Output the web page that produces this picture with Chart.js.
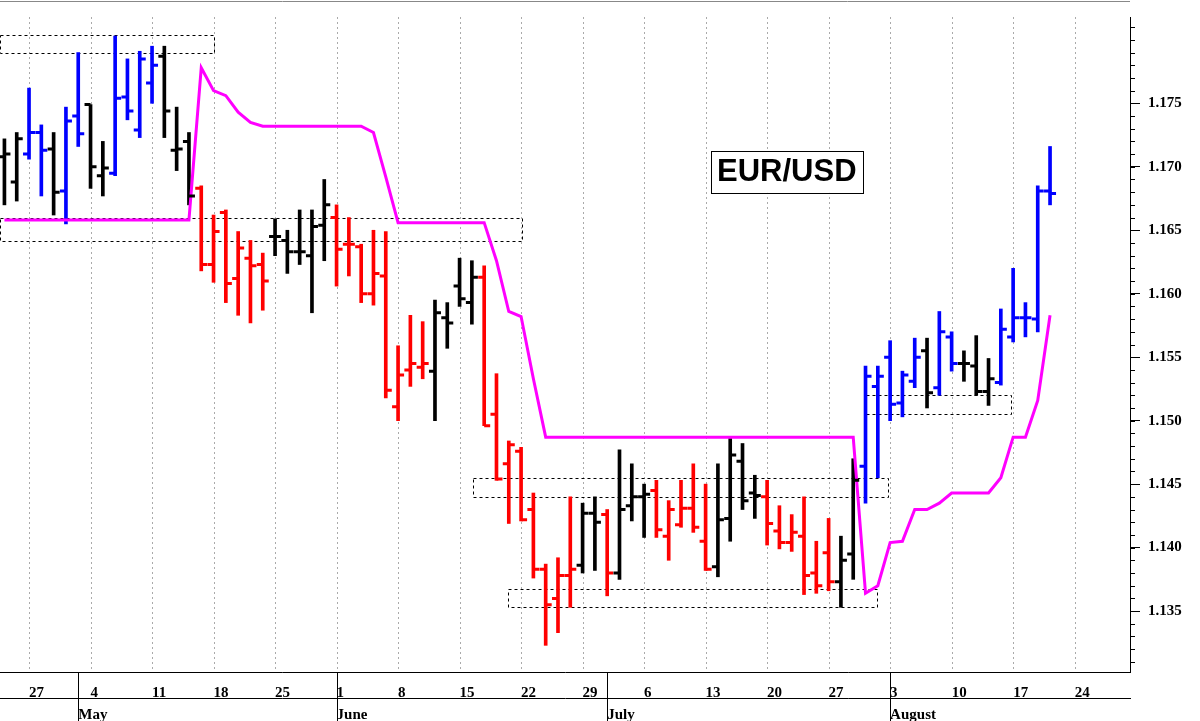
<!DOCTYPE html>
<html><head><meta charset="utf-8">
<script src="https://cdn.jsdelivr.net/npm/chart.js@4/dist/chart.umd.min.js"></script>
<style>html,body{margin:0;padding:0;background:#fff;}canvas{display:block;}</style>
</head><body>
<canvas id="c" width="1200" height="721"></canvas>
<script>
const highs=[1.1722,1.1727,1.1762,1.1733,1.1727,1.1747,1.1790,1.1749,1.1720,1.1803,1.1785,1.1791,1.1795,1.1795,1.1747,1.1727,
1.1685,1.1662,1.1666,1.1649,1.1642,1.1632,1.1659,1.1650,1.1666,1.1666,1.1690,1.1670,1.1660,1.1639,1.1650,1.1649,1.1559,1.1583,1.1578,1.1595,1.1593,1.1628,1.1626,
1.1622,1.1537,1.1484,1.1479,1.1443,1.1387,1.1392,1.1440,1.1435,1.1440,1.1430,1.1477,1.1466,1.1450,1.1453,1.1437,1.1453,1.1466,1.1450,1.1466,1.1486,1.1482,1.1457,
1.1453,1.1433,1.1426,1.1440,1.1405,1.1423,1.1409,1.1470,1.1543,1.1543,1.1563,1.1539,1.1565,1.1565,1.1586,1.1570,1.1555,1.1567,1.1549,1.1588,1.1620,1.1593,1.1685,1.1716];
const lows=[1.1670,1.1673,1.1706,1.1677,1.1662,1.1655,1.1716,1.1683,1.1677,1.1693,1.1737,1.1723,1.1750,1.1723,1.1697,1.1670,
1.1618,1.1609,1.1593,1.1583,1.1577,1.1587,1.1630,1.1616,1.1623,1.1585,1.1626,1.1606,1.1614,1.1593,1.1591,1.1518,1.1500,1.1527,1.1533,1.1500,1.1557,1.1590,1.1576,
1.1496,1.1453,1.1419,1.1421,1.1376,1.1323,1.1333,1.1353,1.1380,1.1382,1.1362,1.1375,1.1421,1.1408,1.1408,1.1390,1.1416,1.1412,1.1382,1.1377,1.1405,1.1430,1.1423,
1.1402,1.1399,1.1397,1.1363,1.1364,1.1366,1.1353,1.1375,1.1435,1.1455,1.1500,1.1503,1.1526,1.1510,1.1520,1.1539,1.1531,1.1520,1.1512,1.1528,1.1562,1.1566,1.1570,1.1670];
const opens=[1.1708,1.1688,1.1710,1.1727,1.1714,1.1681,1.1740,1.1749,1.1693,1.1695,1.1755,1.1729,1.1766,1.1787,1.1713,1.1720,
1.1683,1.1623,1.1664,1.1612,1.1628,1.1623,1.1645,1.1642,1.1633,1.1630,1.1654,1.1660,1.1639,1.1637,1.1600,1.1614,1.1511,1.1540,1.1542,1.1539,1.1581,1.1606,1.1593,
1.1613,1.1505,1.1466,1.1476,1.1430,1.1383,1.1360,1.1378,1.1386,1.1427,1.1426,1.1380,1.1433,1.1440,1.1445,1.1409,1.1418,1.1431,1.1405,1.1385,1.1423,1.1468,1.1443,
1.1440,1.1413,1.1404,1.1409,1.1380,1.1396,1.1373,1.1395,1.1464,1.1527,1.1550,1.1514,1.1531,1.1555,1.1526,1.1566,1.1545,1.1543,1.1523,1.1530,1.1566,1.1581,1.1580,1.1681];
const closes=[1.1710,1.1722,1.1727,1.1713,1.1680,1.1736,1.1726,1.1700,1.1699,1.1754,1.1744,1.1785,1.1780,1.1744,1.1714,1.1677,
1.1623,1.1649,1.1608,1.1636,1.1622,1.1610,1.1645,1.1633,1.1633,1.1653,1.1670,1.1635,1.1639,1.1600,1.1616,1.1524,1.1536,1.1545,1.1545,1.1585,1.1577,1.1596,1.1613,
1.1496,1.1454,1.1481,1.1422,1.1383,1.1355,1.1378,1.1383,1.1427,1.1420,1.1380,1.1430,1.1440,1.1442,1.1414,1.1430,1.1431,1.1416,1.1383,1.1422,1.1473,1.1437,1.1441,
1.1419,1.1404,1.1412,1.1378,1.1370,1.1373,1.1390,1.1453,1.1535,1.1535,1.1513,1.1536,1.1550,1.1522,1.1570,1.1545,1.1545,1.1523,1.1533,1.1572,1.1581,1.1581,1.1681,1.1679];
const trendState="kkbbkbbkkbbbbkkkrrrrrrkkkkkrrrrrrrrkkkkrrrrrrrrkkrkkkrrrrrkkkkrrrrrrkkbbbbbkbbkkkbbbbb".split("");
const stopLine=[1.1658,1.1658,1.1658,1.1658,1.1658,1.1658,1.1658,1.1658,1.1658,1.1658,1.1658,1.1658,1.1658,1.1658,1.1658,1.1658,
1.1778,1.1760,1.1756,1.1743,1.1735,1.1732,1.1732,1.1732,1.1732,1.1732,1.1732,1.1732,1.1732,1.1732,1.1727,1.1692,
1.1656,1.1656,1.1656,1.1656,1.1656,1.1656,1.1656,1.1656,1.1626,1.1586,1.1582,1.1533,
1.1487,1.1487,1.1487,1.1487,1.1487,1.1487,1.1487,1.1487,1.1487,1.1487,1.1487,1.1487,1.1487,1.1487,1.1487,1.1487,1.1487,1.1487,1.1487,1.1487,1.1487,1.1487,1.1487,1.1487,1.1487,1.1487,
1.1364,1.1370,1.1404,1.1405,1.1430,1.1430,1.1435,1.1443,1.1443,1.1443,1.1443,1.1455,1.1487,1.1487,1.1516,1.1583];
const weekPositions=[2,7,12,17,22,27,32,37,42,47,52,57,62,67,72,77,82,87];
const weekLabels=["27","4","11","18","25","1","8","15","22","29","6","13","20","27","3","10","17","24"];
const monthPositions=[6,27,49,72];
const monthLabels=["May","June","July","August"];
const yTicks=[1.135,1.140,1.145,1.150,1.155,1.160,1.165,1.170,1.175];
// [xStart, xEnd, priceTop, priceBottom]
const boxes=[[-0.4,16.96,1.1804,1.1790],[-0.4,42.0,1.1660,1.1642],[38.1,71.8,1.1455,1.1440],[40.9,70.9,1.1367,1.1353],[70.0,81.8,1.1520,1.1505]];
const title="EUR/USD";

const colorMap={k:"#000000",b:"#0000ff",r:"#ff0000"};
const barColors=trendState.map(s=>colorMap[s]);
const idx=highs.map((_,i)=>i);

const deco={
 id:"deco",
 beforeDatasetsDraw(ch){
  const {ctx,chartArea:a,scales:{x,y}}=ch;
  ctx.save();
  ctx.strokeStyle="#aaaaaa";ctx.lineWidth=1;ctx.setLineDash([2,3]);
  weekPositions.forEach(p=>{const px=Math.round(x.getPixelForValue(p))+0.5;ctx.beginPath();ctx.moveTo(px,a.top);ctx.lineTo(px,a.bottom);ctx.stroke();});
  ctx.setLineDash([3,3]);ctx.strokeStyle="#000";
  boxes.forEach(b=>{const x0=x.getPixelForValue(b[0]),x1=x.getPixelForValue(b[1]),y0=y.getPixelForValue(b[2]),y1=y.getPixelForValue(b[3]);ctx.strokeRect(Math.round(x0)+0.5,Math.round(y0)+0.5,Math.round(x1-x0),Math.round(y1-y0));});
  ctx.setLineDash([]);
  ctx.strokeStyle="#888";ctx.beginPath();ctx.moveTo(0,1.5);ctx.lineTo(a.right,1.5);ctx.stroke();
  ctx.restore();
 },
 afterDatasetsDraw(ch){
  const {ctx,chartArea:a,scales:{x,y}}=ch;
  ctx.save();
  ctx.lineWidth=3;
  idx.forEach(i=>{
   const px=x.getPixelForValue(i);ctx.strokeStyle=barColors[i];
   const po=y.getPixelForValue(opens[i]),pc=y.getPixelForValue(closes[i]);
   ctx.beginPath();ctx.moveTo(px-6,po);ctx.lineTo(px,po);ctx.moveTo(px,pc);ctx.lineTo(px+6,pc);ctx.stroke();
  });
  ctx.lineWidth=1;ctx.strokeStyle="#000";
  for(let k=1131;k<=1181;k++){const v=k/1000;const py=Math.round(y.getPixelForValue(v))+0.5;if(py<a.top||py>a.bottom)continue;ctx.beginPath();ctx.moveTo(a.right,py);ctx.lineTo(a.right+5,py);ctx.stroke();}
  monthPositions.forEach(p=>{const px=Math.round(x.getPixelForValue(p))+0.5;ctx.beginPath();ctx.moveTo(px,a.bottom);ctx.lineTo(px,ch.height);ctx.stroke();});
  ctx.font="bold 31px 'Liberation Sans', Arial, sans-serif";ctx.textAlign="center";ctx.textBaseline="middle";
  const cx=x.getPixelForValue(63.6),cy=y.getPixelForValue(1.1696);
  const w=ctx.measureText(title).width+12;
  ctx.fillStyle="#fff";ctx.fillRect(cx-w/2,cy-21,w,42);
  ctx.strokeRect(Math.round(cx-w/2)+0.5,Math.round(cy-21)+0.5,Math.round(w),42);
  ctx.fillStyle="#000";ctx.fillText(title,cx,cy+1);
  ctx.restore();
 }
};

new Chart(document.getElementById("c"),{
 data:{datasets:[
  {type:"line",data:idx.map(i=>({x:i,y:stopLine[i]})),borderColor:"#ff00ff",borderWidth:3,pointRadius:0,tension:0,order:0},
  {type:"bar",data:idx.map(i=>({x:i,y:[lows[i],highs[i]]})),backgroundColor:barColors,barThickness:3,grouped:false,order:1}
 ]},
 options:{
  responsive:false,devicePixelRatio:1,animation:false,
  layout:{padding:{left:0,right:0,top:0,bottom:0},autoPadding:false},
  plugins:{legend:{display:false},tooltip:{enabled:false}},
  scales:{
   x:{type:"linear",offset:false,position:"bottom",weight:0,min:-0.36,max:91.5,
      afterBuildTicks(s){s.ticks=weekPositions.map(v=>({value:v}));},
      afterFit(s){s.height=26;},
      grid:{display:false,offset:false},border:{display:true,color:"#000",width:1},
      ticks:{autoSkip:false,maxRotation:0,align:"start",padding:4,color:"#000",font:{family:"'Liberation Serif', serif",size:15,weight:"bold"},
        callback(v){const k=weekPositions.indexOf(v);return k>=0?weekLabels[k]:"";}}},
   x2:{type:"linear",offset:false,position:"bottom",weight:1,min:-0.36,max:91.5,
      afterBuildTicks(s){s.ticks=monthPositions.map(v=>({value:v}));},
      afterFit(s){s.height=23;},
      grid:{display:false,offset:false},border:{display:true,color:"#000",width:1},
      ticks:{autoSkip:false,maxRotation:0,align:"start",padding:0,color:"#000",font:{family:"'Liberation Serif', serif",size:15,weight:"bold"},
        callback(v){const k=monthPositions.indexOf(v);return k>=0?monthLabels[k]:"";}}},
   y:{type:"linear",position:"right",min:1.1302,max:1.1818,
      afterBuildTicks(s){s.ticks=yTicks.map(v=>({value:v}));},
      afterFit(s){s.width=70;},
      grid:{drawOnChartArea:false,drawTicks:true,tickLength:10,color:"#000"},border:{display:true,color:"#000",width:1},
      ticks:{padding:8,color:"#000",font:{family:"'Liberation Serif', serif",size:15,weight:"bold"},callback(v){return v.toFixed(3);}}}
  }
 },
 plugins:[deco]
});
</script>
</body></html>
